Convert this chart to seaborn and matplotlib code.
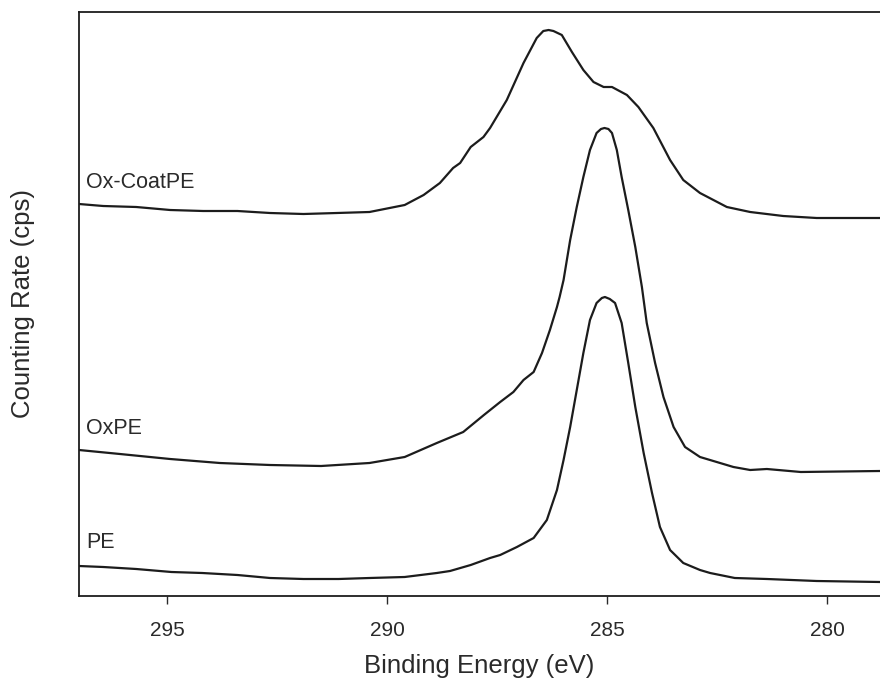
"""
XPS C1s spectra of PE, OxPE and Ox-CoatPE, stacked with offsets.
"""

import pandas as pd
import matplotlib
matplotlib.use("Agg")
import matplotlib.pyplot as plt
import seaborn as sns

# PE spectrum (binding energy in eV, counts in offset plot units)
pe_energy = [297.0, 296.45, 295.7, 294.9, 294.2, 293.4, 292.66, 291.9, 291.1, 290.4,
             289.6, 288.87, 288.57, 288.1, 287.66, 287.43, 287.05, 286.67, 286.37, 286.14,
             285.99, 285.84, 285.69, 285.54, 285.39, 285.24, 285.12, 285.05, 284.94, 284.82,
             284.67, 284.52, 284.36, 284.17, 283.98, 283.8, 283.57, 283.27, 282.89, 282.66,
             282.1, 281.37, 280.24, 278.8]
pe_counts = [30, 29, 27, 24, 23, 21, 18, 17, 17, 18,
             19, 23, 25, 31, 38, 41, 49, 58, 76, 106,
             136, 169, 206, 243, 276, 293, 298, 299, 297, 293,
             273, 233, 189, 143, 103, 69, 46, 33, 26, 23,
             18, 17, 15, 14]

# OxPE spectrum
oxpe_energy = [297.0, 296.07, 294.93, 293.8, 292.66, 291.5, 290.4, 289.6, 288.87, 288.27,
               287.8, 287.43, 287.13, 286.9, 286.67, 286.48, 286.3, 286.14, 286.08, 285.99,
               285.84, 285.69, 285.54, 285.39, 285.24, 285.14, 285.06, 284.97, 284.89, 284.78,
               284.67, 284.52, 284.36, 284.21, 284.1, 283.91, 283.72, 283.49, 283.23, 282.89,
               282.13, 281.75, 281.37, 280.6, 278.8]
oxpe_counts = [146, 142, 137, 133, 131, 130, 133, 139, 153, 164,
               181, 194, 204, 216, 224, 243, 266, 289, 299, 316,
               356, 389, 419, 446, 463, 467, 468, 467, 463, 446,
               419, 386, 349, 309, 273, 233, 199, 169, 149, 139,
               129, 126, 127, 124, 125]

# Ox-CoatPE spectrum
coat_energy = [297.0, 296.45, 295.7, 294.93, 294.18, 293.4, 292.66, 291.9, 291.14, 290.4,
               289.6, 289.17, 288.8, 288.5, 288.34, 288.1, 287.81, 287.66, 287.28, 286.9,
               286.6, 286.45, 286.33, 286.22, 286.03, 285.8, 285.54, 285.31, 285.08, 284.89,
               284.55, 284.29, 283.95, 283.57, 283.27, 282.89, 282.28, 281.75, 281.0, 280.24,
               278.8]
coat_counts = [392, 390, 389, 386, 385, 385, 383, 382, 383, 384,
               391, 401, 413, 428, 433, 449, 459, 468, 496, 533,
               558, 565, 566, 565, 561, 544, 526, 514, 509, 509,
               501, 489, 468, 436, 416, 403, 389, 384, 380, 378,
               378]

sample_names = ["PE", "OxPE", "Ox-CoatPE"]
label_counts = [53, 168, 413]

df = pd.concat([
    pd.DataFrame({"energy": pe_energy, "counts": pe_counts, "sample": "PE"}),
    pd.DataFrame({"energy": oxpe_energy, "counts": oxpe_counts, "sample": "OxPE"}),
    pd.DataFrame({"energy": coat_energy, "counts": coat_counts, "sample": "Ox-CoatPE"}),
])

sns.set_style("white")
plt.rcParams["font.family"] = ["Liberation Sans", "DejaVu Sans"]

line_color = "#1c1c1c"
text_color = "#2a2a2a"

fig = plt.figure(figsize=(8.8, 6.94), dpi=100)
ax = fig.add_axes([79 / 880, 98 / 694, 801 / 880, 584 / 694])

sns.lineplot(data=df, x="energy", y="counts", hue="sample", units="sample",
             estimator=None, palette=[line_color] * 3, legend=False,
             linewidth=1.6, ax=ax)
for line in ax.lines:
    line.set_solid_joinstyle("round")
    line.set_solid_capstyle("round")

for name, y in zip(sample_names, label_counts):
    ax.text(296.84, y, name, ha="left", va="center", fontsize=15.5, color=text_color)

ax.set_xlim(297, 278.8)
ax.set_ylim(0, 584)
ax.set_xticks([295, 290, 285, 280])
ax.set_yticks([])
ax.tick_params(axis="x", direction="out", length=6, width=1, pad=12,
               labelsize=15, colors=text_color, bottom=True)

for side in ["left", "bottom", "top"]:
    ax.spines[side].set_color(line_color)
    ax.spines[side].set_linewidth(1.3)
ax.spines["right"].set_visible(False)

ax.set_xlabel("Binding Energy (eV)", fontsize=18.5, color=text_color, labelpad=10)
ax.set_ylabel("Counting Rate (cps)", fontsize=18.5, color=text_color)
ax.yaxis.set_label_coords(-0.055, 0.5)

plt.savefig("out.png", dpi=100)
plt.close()
